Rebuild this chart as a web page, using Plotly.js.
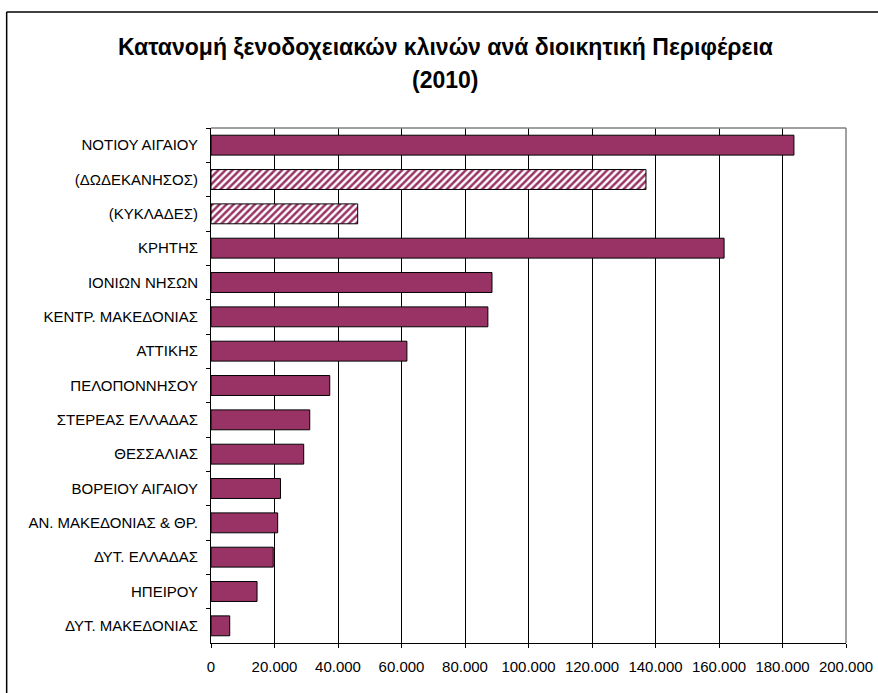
<!DOCTYPE html>
<html>
<head>
<meta charset="utf-8">
<script src="https://cdn.plot.ly/plotly-3.0.1.min.js"></script>
<style>html,body{margin:0;padding:0;background:#fff;}#chart{width:878px;height:693px;}</style>
</head>
<body>
<div id="chart"></div>
<script>
const categories = ["ΝΟΤΙΟΥ ΑΙΓΑΙΟΥ","(ΔΩΔΕΚΑΝΗΣΟΣ)","(ΚΥΚΛΑΔΕΣ)","ΚΡΗΤΗΣ","ΙΟΝΙΩΝ ΝΗΣΩΝ","ΚΕΝΤΡ. ΜΑΚΕΔΟΝΙΑΣ","ΑΤΤΙΚΗΣ","ΠΕΛΟΠΟΝΝΗΣΟΥ","ΣΤΕΡΕΑΣ ΕΛΛΑΔΑΣ","ΘΕΣΣΑΛΙΑΣ","ΒΟΡΕΙΟΥ ΑΙΓΑΙΟΥ","ΑΝ. ΜΑΚΕΔΟΝΙΑΣ & ΘΡ.","ΔΥΤ. ΕΛΛΑΔΑΣ","ΗΠΕΙΡΟΥ","ΔΥΤ. ΜΑΚΕΔΟΝΙΑΣ"];
const beds = [183600,137000,46200,161600,88500,87200,61700,37400,31100,29200,21900,21000,19600,14500,5900];
const subRegion = [false,true,true,false,false,false,false,false,false,false,false,false,false,false,false];
const xTicks = [0,20000,40000,60000,80000,100000,120000,140000,160000,180000,200000];
const titleLine1 = "Κατανομή ξενοδοχειακών κλινών ανά διοικητική Περιφέρεια";
const titleLine2 = "(2010)";

const plum = "#993366";
const font = "Liberation Sans, Arial, sans-serif";

const trace = {
  type: "bar",
  orientation: "h",
  y: categories,
  x: beds,
  marker: {
    color: plum,
    line: {color: "#000000", width: 1},
    pattern: {
      shape: subRegion.map(s => s ? "/" : ""),
      fgcolor: subRegion.map(() => plum),
      bgcolor: subRegion.map(() => "#ffffff"),
      size: 5,
      solidity: 0.5,
      fillmode: "replace"
    }
  },
  hoverinfo: "x+y"
};

const W = 878, H = 693, L = 210.5, R = 32, T = 128, B = 50;
const pw = W - L - R, ph = H - T - B;
const px = v => (v - L) / pw;
const py = v => 1 - (v - T) / ph;

const layout = {
  width: W, height: H,
  margin: {l: L, r: R, t: T, b: B, pad: 0},
  paper_bgcolor: "#ffffff",
  plot_bgcolor: "#ffffff",
  separators: ",.",
  showlegend: false,
  bargap: 0.42,
  font: {family: font, size: 15, color: "#000000"},
  xaxis: {
    range: [0, 200000],
    tickvals: xTicks,
    tickformat: ",d",
    ticks: "outside",
    ticklen: 4,
    tickcolor: "#000000",
    showgrid: true,
    gridcolor: "#000000",
    gridwidth: 1,
    showline: true,
    linecolor: "#000000",
    linewidth: 1,
    zeroline: false,
    ticklabelstandoff: 6,
    tickfont: {family: font, size: 15, color: "#000000"},
    fixedrange: true
  },
  yaxis: {
    autorange: "reversed",
    type: "category",
    ticks: "outside",
    tickson: "boundaries",
    ticklen: 4,
    tickcolor: "#000000",
    showgrid: false,
    showline: true,
    linecolor: "#000000",
    linewidth: 1,
    zeroline: false,
    ticklabelstandoff: 9,
    tickfont: {family: font, size: 15, color: "#000000"},
    fixedrange: true
  },
  shapes: [
    {type: "line", xref: "paper", yref: "paper", x0: 0, x1: 1, y0: 1, y1: 1, line: {color: "#808080", width: 1.5}},
    {type: "line", xref: "paper", yref: "paper", x0: 1, x1: 1, y0: 0, y1: 1, line: {color: "#808080", width: 1.5}},
    {type: "line", xref: "paper", yref: "paper", x0: px(6), x1: px(900), y0: py(12), y1: py(12), line: {color: "#000000", width: 1.5}},
    {type: "line", xref: "paper", yref: "paper", x0: px(6), x1: px(6), y0: py(12), y1: py(720), line: {color: "#000000", width: 1.5}}
  ],
  annotations: [
    {text: "<b>" + titleLine1 + "</b>", xref: "paper", yref: "paper", x: px(445), y: py(47), xanchor: "center", yanchor: "middle", showarrow: false, font: {family: font, size: 23, color: "#000000"}},
    {text: "<b>" + titleLine2 + "</b>", xref: "paper", yref: "paper", x: px(445), y: py(80), xanchor: "center", yanchor: "middle", showarrow: false, font: {family: font, size: 23, color: "#000000"}}
  ]
};

Plotly.newPlot("chart", [trace], layout, {displayModeBar: false, staticPlot: true});
</script>
</body>
</html>
